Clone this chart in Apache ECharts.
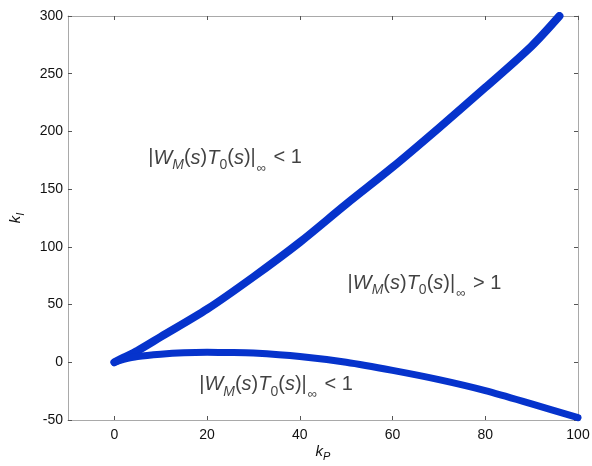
<!DOCTYPE html>
<html>
<head>
<meta charset="utf-8">
<script src="https://cdn.jsdelivr.net/npm/echarts@6/dist/echarts.min.js"></script>
<style>
  html, body { margin: 0; padding: 0; background: #fff; }
  #chart { width: 592px; height: 466px; }
</style>
</head>
<body>
<div id="chart"></div>
<script>
// Boundary curves of the (kP, kI) stability-margin region
const upperKP = [0, 2, 5, 10, 20, 30, 40, 50, 60, 70, 80, 90, 96];
const upperKI = [0, 4, 10, 22, 46, 74, 104, 137, 169, 203, 238, 274, 300];

const lowerKP = [0, 2, 5, 10, 15, 20, 25, 30, 40, 50, 60, 70, 80, 90, 100];
const lowerKI = [0, 2.5, 5, 7, 8.2, 8.6, 8.5, 8, 5, 0, -7, -15, -24.5, -36, -48];

// Region annotations: anchor (kP, kI) and comparison sign
const noteKP = [7.3, 50.3, 18.3];
const noteKI = [177, 68.7, -19.6];
const noteSign = ['<', '>', '<'];

const xTicks = [0, 20, 40, 60, 80, 100];

const blue = '#0633cc';
const font = 'Liberation Sans, Arial, sans-serif';
const ink = '#111';

function pairs(xs, ys) { return xs.map((x, i) => [x, ys[i]]); }

const chart = echarts.init(document.getElementById('chart'));

const axisLine = { show: true, onZero: false, lineStyle: { color: '#a9a9a9', width: 1 } };
const tick = { show: true, inside: true, length: 4, lineStyle: { color: '#555', width: 1 } };

const richNote = {
  m: { fontSize: 20, fontFamily: font, color: ink, lineHeight: 30, verticalAlign: 'middle' },
  i: { fontSize: 20, fontFamily: font, fontStyle: 'italic', color: ink, lineHeight: 30, verticalAlign: 'middle' },
  s: { fontSize: 14, fontFamily: font, fontStyle: 'italic', color: ink, lineHeight: 30, verticalAlign: 'middle', padding: [14, 0, 0, 0] },
  n: { fontSize: 14, fontFamily: font, color: ink, lineHeight: 30, verticalAlign: 'middle', padding: [14, 0, 0, 0] },
  inf: { fontSize: 13, fontFamily: font, color: ink, lineHeight: 30, verticalAlign: 'middle', padding: [20, 2, 0, 1] }
};

const richName = {
  m: { fontSize: 15, fontFamily: font, fontStyle: 'italic', color: ink, lineHeight: 22, verticalAlign: 'middle' },
  s: { fontSize: 11, fontFamily: font, fontStyle: 'italic', color: ink, lineHeight: 22, verticalAlign: 'middle', padding: [10, 0, 0, 0] }
};

chart.setOption({
  animation: false,
  backgroundColor: '#fff',
  grid: { left: 68, right: 14, top: 16, bottom: 46, containLabel: false, outerBoundsMode: 'none' },
  xAxis: [
    {
      type: 'value', min: -10, max: 100, position: 'bottom',
      axisLine, axisTick: Object.assign({ customValues: xTicks }, tick),
      axisLabel: { customValues: xTicks, color: ink, fontSize: 14, fontFamily: font, margin: 8 },
      splitLine: { show: false },
      name: '{m|k}{s|P}', nameLocation: 'middle', nameGap: 21, nameMoveOverlap: false,
      nameTextStyle: { rich: richName }
    },
    {
      type: 'value', min: -10, max: 100, position: 'top',
      axisLine, axisTick: Object.assign({ customValues: xTicks }, tick),
      axisLabel: { show: false }, splitLine: { show: false }
    }
  ],
  yAxis: [
    {
      type: 'value', min: -50, max: 300, interval: 50, position: 'left',
      axisLine, axisTick: tick,
      axisLabel: { color: ink, fontSize: 14, fontFamily: font, margin: 5 },
      splitLine: { show: false },
      name: '{m|k}{s|I}', nameLocation: 'middle', nameGap: 41, nameRotate: 90, nameMoveOverlap: false,
      nameTextStyle: { rich: richName }
    },
    {
      type: 'value', min: -50, max: 300, interval: 50, position: 'right',
      axisLine, axisTick: tick, axisLabel: { show: false }, splitLine: { show: false }
    }
  ],
  series: [
    {
      type: 'line', data: pairs(upperKP, upperKI), smooth: 0.3, showSymbol: false,
      lineStyle: { color: blue, width: 8, cap: 'round', join: 'round' }, clip: true
    },
    {
      type: 'line', data: pairs(lowerKP, lowerKI), smooth: 0.3, showSymbol: false,
      lineStyle: { color: blue, width: 7, cap: 'round', join: 'round' }, clip: true
    },
    {
      type: 'scatter', symbolSize: 0, silent: true,
      data: noteKP.map((x, i) => ({ value: [x, noteKI[i]], sign: noteSign[i] })),
      label: {
        show: true, position: 'right', distance: 0,
        formatter: p => '{m||}{i|W}{s|M}{m|(}{i|s}{m|)}{i|T}{n|0}{m|(}{i|s}{m|)|}{inf|∞}{m| ' + p.data.sign + ' 1}',
        rich: richNote
      }
    }
  ]
});
</script>
</body>
</html>
